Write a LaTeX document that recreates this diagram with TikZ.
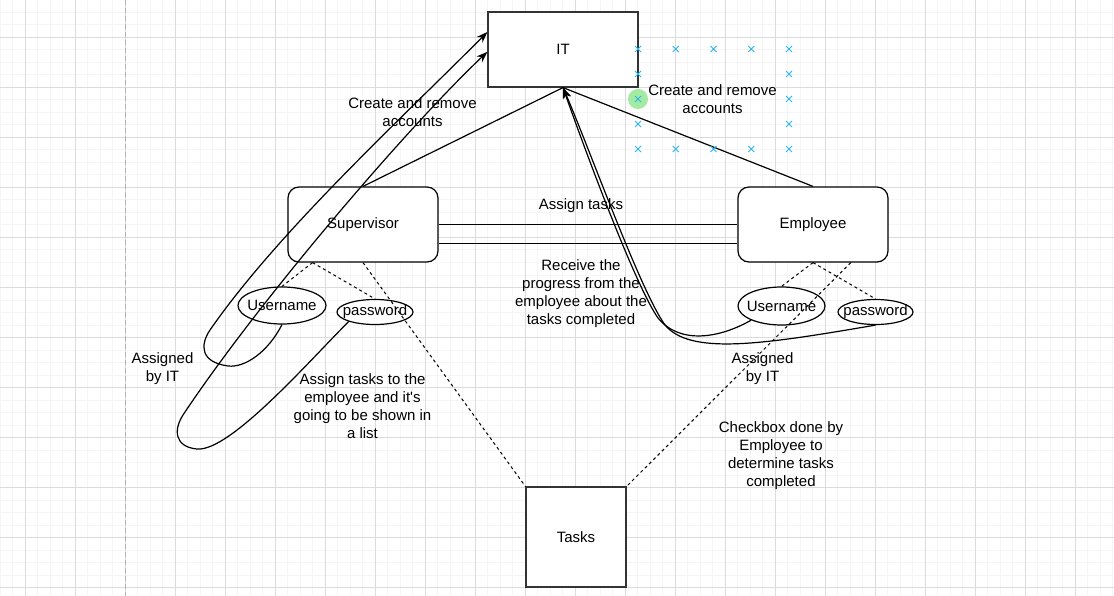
\documentclass[tikz,border=0pt]{standalone}
\usepackage{fontspec}
\setmainfont{Liberation Sans}
\usetikzlibrary{shapes.geometric, arrows.meta, calc}
\definecolor{hover}{RGB}{41,182,242}
\definecolor{hovergreen}{RGB}{140,230,140}

\begin{document}
\begin{tikzpicture}[x=1pt, y=-1pt, line width=1.2pt, >={Stealth[length=11pt,width=8pt,inset=3.5pt]}]
\tikzset{ every node/.style={font=\fontsize{15}{18}\selectfont, align=center},
          box/.style={draw=black!80, fill=white, minimum width=150pt, minimum height=75pt},
          rbox/.style={box, draw=black, rounded corners=11pt},
          attr/.style={draw, fill=white, ellipse, inner sep=0pt},
          dotline/.style={line width=1pt, dash pattern=on 3pt off 3pt} };
\def\gmax{1114}

\useasboundingbox (0,0) rectangle (\gmax,596);
\fill[white] (0,0) rectangle (\gmax,596);
\begin{scope}[line width=1pt]
\foreach \gx in {0,12.5,...,1112.5} \draw[black!4] (\gx,0) -- (\gx,596);
\foreach \gy in {0,12.5,...,587.5} \draw[black!4] (0,\gy) -- (\gmax,\gy);
\foreach \gx in {25,75,...,1075} \draw[black!14] (\gx,0) -- (\gx,596);
\foreach \gy in {37.5,87.5,...,587.5} \draw[black!14] (0,\gy) -- (\gmax,\gy);
\draw[black!30, dash pattern=on 5pt off 3pt] (125,0) -- (125,596);
\end{scope}

\node[box] (it) at (563,49.5) {IT};
\node[rbox] (sup) at (363,224.5) {Supervisor};
\node[rbox] (emp) at (813,224.5) {Employee};
\node[box, minimum width=100pt, minimum height=100pt] (tasks) at (576,537) {Tasks};

\node[attr, minimum width=88pt, minimum height=37pt, label=center:Username] (user1) at (282,305.5) {};
\node[attr, minimum width=76pt, minimum height=25pt, label=center:password] (pw1) at (375,312) {};
\node[attr, minimum width=87pt, minimum height=38pt, label=center:Username] (user2) at (781.5,306) {};
\node[attr, minimum width=75pt, minimum height=25pt, label=center:password] (pw2) at (875.5,312) {};

\node (accL) at (412.5,112) {Create and remove\\accounts};
\node (accR) at (712.5,99) {Create and remove\\accounts};
\node (assign) at (581,206) {Assign tasks};
\node (progress) at (581,294) {Receive the\\progress from the\\employee about the\\tasks completed};
\node (byitL) at (162.5,369) {Assigned\\by IT};
\node (byitR) at (762.5,369) {Assigned\\by IT};
\node (list) at (362.5,406) {Assign tasks to the\\employee and it\textquotesingle s\\going to be shown in\\a list};
\node (check) at (781,456) {Checkbox done by\\Employee to\\determine tasks\\completed};

\draw (sup.north) edge (it.south);
\draw (emp.north) edge (it.south);
\draw (sup.east) edge (emp.west);
\draw ($(sup.east)!0.5!(sup.south east)$) edge ($(emp.west)!0.5!(emp.south west)$);

\begin{scope}[dotline]
\draw ($(sup.south)!0.667!(sup.south west)$) edge (user1.north);
\draw ($(sup.south)!0.667!(sup.south west)$) edge (pw1.north);
\draw (sup.south) edge (tasks.north west);
\draw (emp.south) edge (user2.north);
\draw (emp.south) edge (pw2.north);
\draw ($(emp.south)!0.5!(emp.south east)$) edge (tasks.north east);
\end{scope}

\begin{scope}[->]
\draw (user1.south) .. controls (268,352) and (245,368) .. (228,366)
      .. controls (200,362) and (200,345) .. (210,330)
      .. controls (278,232) and (400,120) .. ($(it.north west)!0.27!(it.south west)$);
\draw (pw1.200) .. controls (310,360) and (230,452) .. (197,449)
      .. controls (175,447) and (172,430) .. (185,412)
      .. controls (260,300) and (405,130) .. ($(it.north west)!0.53!(it.south west)$);
\draw (user2.205) .. controls (720,338) and (680,345) .. (658,318)
      .. controls (635,285) and (585,150) .. (it.south);
\draw (pw2.south) .. controls (760,345) and (690,355) .. (665,325)
      .. controls (640,290) and (590,150) .. (it.south);
\end{scope}

\fill[hovergreen, opacity=0.8] (638,99) circle (10);
\foreach \cx/\cy in {638/49, 675.75/49, 713.5/49, 751.25/49, 789/49,
                     638/149, 675.75/149, 713.5/149, 751.25/149, 789/149,
                     638/74, 638/99, 638/124, 789/74, 789/99, 789/124}
  \draw[hover, line width=0.8pt] (\cx-3,\cy-3) -- (\cx+3,\cy+3) (\cx-3,\cy+3) -- (\cx+3,\cy-3);

\end{tikzpicture}
\end{document}
